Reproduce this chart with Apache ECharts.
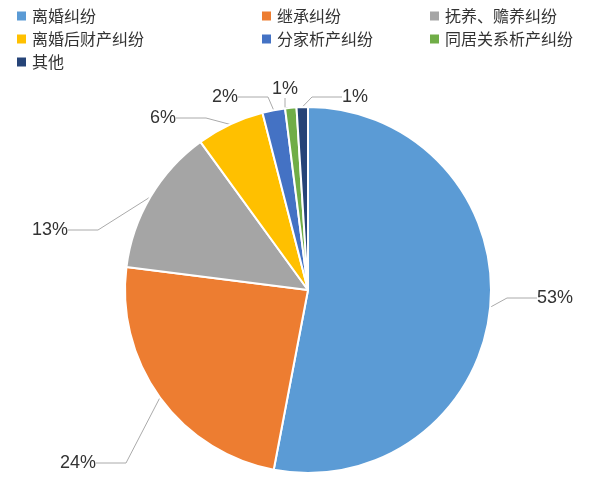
<!DOCTYPE html>
<html><head><meta charset="utf-8">
<script src="https://cdn.jsdelivr.net/npm/echarts@6/dist/echarts.min.js"></script>
<style>html,body{margin:0;background:#fff}#c{width:594px;height:490px}</style>
</head><body><div id="c"></div>
<script>
const categories = ['离婚纠纷','继承纠纷','抚养、赡养纠纷','离婚后财产纠纷','分家析产纠纷','同居关系析产纠纷','其他'];
const values = [53,24,13,6,2,1,1];
const colors = ['#5B9BD5','#ED7D31','#A5A5A5','#FFC000','#4472C4','#70AD47','#264478'];
const labelPos = [[555,298],[78,463],[50,230],[163,118],[225,97],[285,89],[355,97]];
const chart = echarts.init(document.getElementById('c'));
const legendBase = {orient:'vertical',top:3,itemWidth:11,itemHeight:11,itemGap:7,icon:'rect',
  textStyle:{fontSize:16,color:'#333',fontFamily:'Noto Sans CJK SC'}};
chart.setOption({
  color: colors,
  legend: [
    Object.assign({left:10,data:[categories[0],categories[3],categories[6]]},legendBase),
    Object.assign({left:255,data:[categories[1],categories[4]]},legendBase),
    Object.assign({left:423,data:[categories[2],categories[5]]},legendBase)
  ],
  series:[{
    type:'pie', center:[308,290], radius:183, startAngle:90, clockwise:true,
    data: categories.map((n,i)=>({name:n,value:values[i]})),
    itemStyle:{borderColor:'#fff',borderWidth:2},
    label:{formatter:'{c}%',fontSize:18,color:'#333',fontFamily:'Liberation Sans'},
    labelLine:{show:true,lineStyle:{color:'#aaa'}},
    labelLayout:function(p){const q=labelPos[p.dataIndex];return {x:q[0],y:q[1],align:'center',verticalAlign:'middle'};}
  }]
});
</script></body></html>
